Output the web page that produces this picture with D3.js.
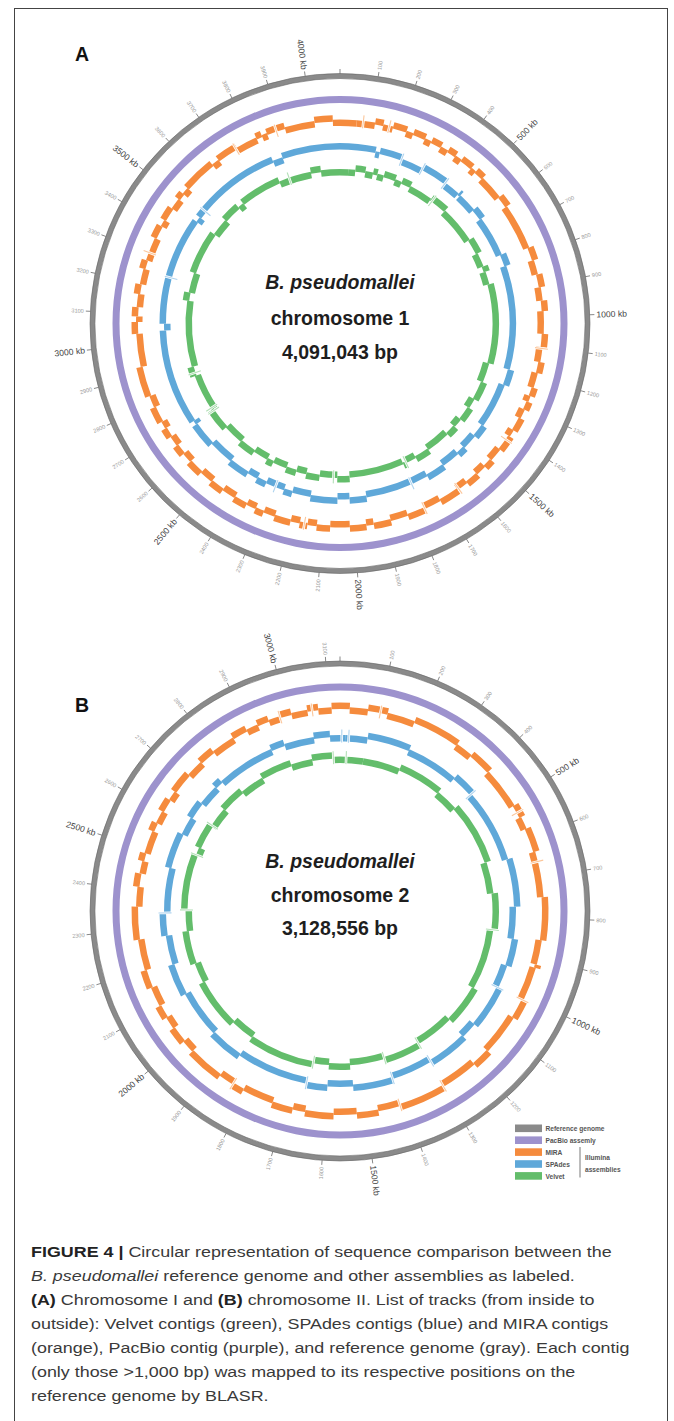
<!DOCTYPE html>
<html><head><meta charset="utf-8">
<script src="https://cdn.jsdelivr.net/npm/d3@7/dist/d3.min.js"></script>
<style>body{margin:0;background:#fff} svg{display:block}</style>
</head><body>
<svg id="fig" width="674" height="1421"></svg>
<script>
// ---------------- data ----------------
const panelLetters = ["A", "B"];
const speciesName = "B. pseudomallei";
const chromosomeNames = ["chromosome 1", "chromosome 2"];
const chromosomeSizeLabels = ["4,091,043 bp", "3,128,556 bp"];
const chromosomeLengthsKb = [4091.043, 3128.556];
const chr1MajorTicksKb = [500, 1000, 1500, 2000, 2500, 3000, 3500, 4000];
const chr2MajorTicksKb = [500, 1000, 1500, 2000, 2500, 3000];
const tickStepKb = 100;

// contig boundaries (kb), per assembly track
const chr1MiraBreaksKb = [54, 113, 140, 172, 217, 240, 281, 303, 338, 364, 393, 416, 457, 475, 505, 586, 624, 774, 817, 864, 906, 949, 983, 1056, 1099, 1147, 1183, 1232, 1260, 1280, 1307, 1338, 1382, 1405, 1457, 1501, 1530, 1565, 1607, 1645, 1710, 1766, 1824, 1881, 1937, 1961, 2014, 2077, 2120, 2150, 2175, 2205, 2258, 2296, 2324, 2356, 2400, 2445, 2490, 2534, 2583, 2616, 2650, 2684, 2716, 2740, 2792, 2831, 2928, 3035, 3073, 3091, 3121, 3163, 3195, 3245, 3274, 3350, 3393, 3415, 3459, 3496, 3518, 3541, 3650, 3675, 3745, 3815, 3834, 3852, 3912, 4009, 4068];
const chr1SpadesBreaksKb = [133, 149, 234, 319, 419, 482, 491, 564, 607, 760, 805, 1196, 1256, 1427, 1476, 1534, 1566, 1636, 1707, 1947, 2010, 2055, 2155, 2225, 2257, 2328, 2365, 2405, 2483, 2578, 2670, 2686, 3042, 3067, 3470, 3490, 3836, 3874];
const chr1VelvetBreaksKb = [35, 65, 108, 141, 160, 188, 239, 268, 309, 411, 488, 649, 716, 776, 800, 855, 1193, 1277, 1357, 1400, 1460, 1500, 1544, 1648, 1711, 1757, 1770, 2005, 2057, 2132, 2189, 2233, 2277, 2337, 2366, 2430, 2500, 2587, 2682, 2842, 2882, 3165, 3200, 3286, 3470, 3546, 3623, 3649, 3828, 3967, 4010];
const chr1MiraShortKb = [75, 160, 1103, 1420, 1640, 1766, 2160, 3300, 3741, 3883];
const chr1SpadesShortKb = [234, 319, 419, 1772, 2291, 3240, 3520];
const chr1VelvetShortKb = [420, 1757, 2073, 2675, 2690, 2855, 3872];

const chr2MiraBreaksKb = [24, 69, 118, 187, 305, 349, 407, 511, 544, 575, 635, 748, 854, 915, 923, 1008, 1057, 1160, 1206, 1299, 1415, 1470, 1523, 1580, 1650, 1681, 1733, 1811, 1840, 1878, 1968, 2000, 2041, 2072, 2105, 2154, 2199, 2276, 2357, 2406, 2439, 2470, 2490, 2547, 2569, 2601, 2634, 2658, 2711, 2754, 2794, 2853, 2891, 2921, 2950, 2979, 3008, 3048, 3075, 3108];
const chr2SpadesBreaksKb = [15, 79, 202, 354, 419, 633, 770, 862, 940, 1007, 1131, 1178, 1294, 1413, 1527, 1600, 1660, 1867, 1964, 2101, 2192, 2276, 2341, 2470, 2572, 2625, 2675, 2736, 2759, 2928, 2968, 3054, 3100];
const chr2VelvetBreaksKb = [76, 198, 344, 419, 622, 725, 843, 1043, 1171, 1298, 1419, 1532, 1600, 1651, 1867, 1945, 2107, 2173, 2281, 2350, 2532, 2557, 2636, 2705, 2786, 2865, 2968, 3038, 3107];
const chr2MiraShortKb = [100, 530, 660, 1008, 1299, 1415, 1840, 2979, 3060];
const chr2SpadesShortKb = [5, 25, 420, 1007, 1294, 1413, 1660, 2341];
const chr2VelvetShortKb = [20, 843, 1298, 1419, 1651, 2350, 2532, 2640, 3107];

const legendNames = ["Reference genome", "PacBio assemly", "MIRA", "SPAdes", "Velvet"];
const legendColors = ["#8a8a8a", "#9d92cd", "#f58b3d", "#5fa8d9", "#63bd6b"];
const bracketLabels = ["Illumina", "assemblies"];

const captionLines = [
  [["FIGURE 4 | ", "b"], ["Circular representation of sequence comparison between the", ""]],
  [["B. pseudomallei", "i"], [" reference genome and other assemblies as labeled.", ""]],
  [["(A)", "b"], [" Chromosome I and ", ""], ["(B)", "b"], [" chromosome II. List of tracks (from inside to", ""]],
  [["outside): Velvet contigs (green), SPAdes contigs (blue) and MIRA contigs", ""]],
  [["(orange), PacBio contig (purple), and reference genome (gray). Each contig", ""]],
  [["(only those >1,000 bp) was mapped to its respective positions on the", ""]],
  [["reference genome by BLASR.", ""]]
];

// ---------------- layout ----------------
const svg = d3.select("#fig");
const FONT = "'Liberation Sans', Arial, Helvetica, sans-serif";

svg.append("rect").attr("x", 14.5).attr("y", 8.5).attr("width", 653).attr("height", 1440)
  .attr("fill", "none").attr("stroke", "#444").attr("stroke-width", 1);

const panels = [
  {cx: 340, cy: 323.5, len: chromosomeLengthsKb[0], majors: chr1MajorTicksKb,
   tracks: [[chr1MiraBreaksKb, chr1MiraShortKb], [chr1SpadesBreaksKb, chr1SpadesShortKb], [chr1VelvetBreaksKb, chr1VelvetShortKb]],
   letter: [75, 61], text: [289, 325, 359]},
  {cx: 340, cy: 911, len: chromosomeLengthsKb[1], majors: chr2MajorTicksKb,
   tracks: [[chr2MiraBreaksKb, chr2MiraShortKb], [chr2SpadesBreaksKb, chr2SpadesShortKb], [chr2VelvetBreaksKb, chr2VelvetShortKb]],
   letter: [75, 712], text: [868, 902, 935]}
];
const trackRadii = [203, 175, 153.5];
const trackColors = [legendColors[2], legendColors[3], legendColors[4]];
const lightColors = ["#fbc69b", "#aed3ee", "#b3e0b7"];

const arc = d3.arc();
panels.forEach((p, pi) => {
  const g = svg.append("g").attr("transform", `translate(${p.cx},${p.cy})`);
  const ang = d3.scaleLinear().domain([0, p.len]).range([0, 2 * Math.PI]);

  // reference ring
  g.append("path").attr("d", arc({innerRadius: 245, outerRadius: 250, startAngle: 0, endAngle: 2 * Math.PI}))
    .attr("fill", legendColors[0]).attr("stroke", "#666").attr("stroke-width", 0.6);
  // pacbio ring
  g.append("path").attr("d", arc({innerRadius: 220.5, outerRadius: 227.5, startAngle: 0, endAngle: 2 * Math.PI}))
    .attr("fill", legendColors[1]);

  // ticks
  const ticks = d3.range(0, p.len, tickStepKb);
  ticks.forEach(t => {
    const a = ang(t), s = Math.sin(a), c = -Math.cos(a);
    const major = p.majors.includes(t);
    g.append("line").attr("x1", 250 * s).attr("y1", 250 * c).attr("x2", 254.5 * s).attr("y2", 254.5 * c)
      .attr("stroke", "#555").attr("stroke-width", 0.7);
    if (t === 0) return;
    const deg = a * 180 / Math.PI;
    const right = deg < 180;
    const r = 256.5;
    g.append("text")
      .attr("transform", `translate(${r * s},${r * c}) rotate(${right ? deg - 90 : deg + 90})`)
      .attr("text-anchor", right ? "start" : "end").attr("dy", "0.35em")
      .attr("font-family", FONT).attr("font-size", major ? 8.6 : 5.6)
      .attr("fill", major ? "#444" : "#9a9a9a")
      .text(major ? `${t} kb` : `${t}`);
  });

  // assembly tracks
  p.tracks.forEach(([breaks, shorts], ti) => {
    const rc = trackRadii[ti];
    const contigs = breaks.map((b, i) => {
      const next = i < breaks.length - 1 ? breaks[i + 1] : breaks[0] + p.len;
      return {start: b, end: next, lane: i % 2};
    });
    g.selectAll(null).data(contigs).enter().append("path")
      .attr("d", d => arc({
        innerRadius: d.lane ? rc - 1 : rc - 5.5,
        outerRadius: d.lane ? rc + 5.5 : rc + 1,
        startAngle: ang(d.start), endAngle: ang(d.end)}))
      .attr("fill", trackColors[ti]);
    shorts.forEach(sk => {
      const a = ang(sk), s = Math.sin(a), c = -Math.cos(a);
      g.append("line").attr("x1", (rc - 7) * s).attr("y1", (rc - 7) * c)
        .attr("x2", (rc + 7) * s).attr("y2", (rc + 7) * c)
        .attr("stroke", "#fff").attr("stroke-width", 2.6);
      g.append("line").attr("x1", (rc - 6.5) * s).attr("y1", (rc - 6.5) * c)
        .attr("x2", (rc + 6.5) * s).attr("y2", (rc + 6.5) * c)
        .attr("stroke", lightColors[ti]).attr("stroke-width", 1.1);
    });
  });

  // center text
  const lines = [speciesName, chromosomeNames[pi], chromosomeSizeLabels[pi]];
  lines.forEach((l, li) => {
    svg.append("text").attr("x", p.cx).attr("y", p.text[li]).attr("text-anchor", "middle")
      .attr("font-family", FONT).attr("font-weight", "bold").attr("font-size", 19.5)
      .attr("font-style", li === 0 ? "italic" : "normal").attr("fill", "#1e1e1e").text(l);
  });
  // panel letter
  svg.append("text").attr("x", p.letter[0]).attr("y", p.letter[1])
    .attr("font-family", FONT).attr("font-weight", "bold").attr("font-size", 19.5)
    .attr("fill", "#111").text(panelLetters[pi]);
});

// legend
const lg = svg.append("g").attr("transform", "translate(515,1124.5)");
legendNames.forEach((n, i) => {
  lg.append("rect").attr("x", 0).attr("y", i * 11.9).attr("width", 27).attr("height", 7.6).attr("fill", legendColors[i]);
  lg.append("text").attr("x", 30.5).attr("y", i * 11.9 + 6.4).attr("font-family", FONT)
    .attr("font-size", 6.6).attr("font-weight", "bold").attr("fill", "#555").text(n);
});
lg.append("line").attr("x1", 65).attr("x2", 65).attr("y1", 22.5).attr("y2", 53).attr("stroke", "#555").attr("stroke-width", 0.8);
bracketLabels.forEach((b, i) => {
  lg.append("text").attr("x", 70).attr("y", 35 + i * 12.8).attr("font-family", FONT)
    .attr("font-size", 6.6).attr("font-weight", "bold").attr("fill", "#555").text(b);
});

// caption
const cap = svg.append("g");
captionLines.forEach((parts, i) => {
  const t = cap.append("text").attr("x", 31).attr("y", 1257 + i * 24)
    .attr("font-family", FONT).attr("font-size", 15).attr("fill", "#3a3a3a");
  parts.forEach(([txt, st]) => {
    const ts = t.append("tspan").text(txt);
    if (st === "b") ts.attr("font-weight", "bold").attr("fill", "#222");
    if (st === "i") ts.attr("font-style", "italic");
  });
});
const w1 = cap.select("text").node().getComputedTextLength();
const sx = 581 / w1;
cap.attr("transform", `translate(31,0) scale(${sx},1) translate(-31,0)`);
</script>
</body></html>
